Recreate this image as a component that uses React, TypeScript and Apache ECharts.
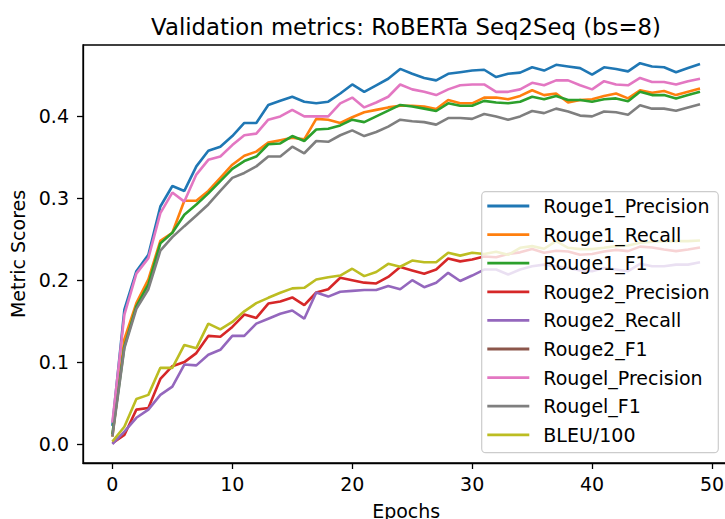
import React, { useEffect, useRef } from "react";
import * as echarts from "echarts";

const epochs = [
  0, 1, 2, 3, 4, 5, 6, 7, 8, 9, 10, 11, 12, 13, 14, 15, 16, 17, 18, 19, 20, 21, 22, 23, 24,
  25, 26, 27, 28, 29, 30, 31, 32, 33, 34, 35, 36, 37, 38, 39, 40, 41, 42, 43, 44, 45, 46, 47, 48, 49,
];

const rouge1Precision = [
  0.022, 0.164, 0.211, 0.231, 0.29, 0.315, 0.309, 0.339, 0.358, 0.363, 0.376, 0.392, 0.392, 0.414, 0.419,
  0.424, 0.418, 0.416, 0.418, 0.428, 0.439, 0.43, 0.438, 0.446, 0.458, 0.452, 0.447, 0.444, 0.452, 0.454,
  0.456, 0.457, 0.448, 0.452, 0.4535, 0.46, 0.456, 0.463, 0.461, 0.459, 0.451, 0.46, 0.458, 0.455, 0.465,
  0.461, 0.46, 0.454, 0.459, 0.464,
];
const rouge1Recall = [
  0.009, 0.128, 0.172, 0.201, 0.248, 0.258, 0.297, 0.297, 0.309, 0.325, 0.341, 0.352, 0.357, 0.368, 0.371,
  0.374, 0.372, 0.397, 0.396, 0.392, 0.399, 0.405, 0.408, 0.411, 0.413, 0.413, 0.412, 0.409, 0.42, 0.416,
  0.416, 0.423, 0.423, 0.421, 0.425, 0.432, 0.426, 0.428, 0.417, 0.42, 0.421, 0.425, 0.428, 0.422, 0.432,
  0.429, 0.431, 0.426, 0.43, 0.434,
];
const rouge1F1 = [
  0.012, 0.119, 0.168, 0.195, 0.245, 0.258, 0.28, 0.2925, 0.306, 0.321, 0.336, 0.3455, 0.351, 0.366, 0.367,
  0.376, 0.37, 0.384, 0.385, 0.389, 0.396, 0.393, 0.4, 0.407, 0.414, 0.412, 0.4095, 0.4066, 0.416, 0.413,
  0.413, 0.419, 0.417, 0.416, 0.418, 0.424, 0.421, 0.425, 0.42, 0.42, 0.418, 0.421, 0.422, 0.4185, 0.43,
  0.426, 0.426, 0.422, 0.426, 0.43,
];
const rouge2Precision = [
  0.001, 0.011, 0.042, 0.044, 0.0795, 0.095, 0.1, 0.111, 0.132, 0.131, 0.143, 0.158, 0.154, 0.1715, 0.174,
  0.179, 0.1695, 0.185, 0.189, 0.203, 0.2, 0.197, 0.196, 0.204, 0.216, 0.212, 0.208, 0.213, 0.2265, 0.223,
  0.2253, 0.229, 0.228, 0.232, 0.234, 0.238, 0.2335, 0.236, 0.235, 0.231, 0.232, 0.235, 0.237, 0.2355, 0.241,
  0.24, 0.2375, 0.2355, 0.2375, 0.24,
];
const rouge2Recall = [
  0.0, 0.015, 0.032, 0.042, 0.06, 0.07, 0.097, 0.096, 0.109, 0.115, 0.132, 0.132, 0.147, 0.153, 0.159,
  0.163, 0.153, 0.185, 0.18, 0.186, 0.187, 0.188, 0.188, 0.193, 0.189, 0.2, 0.1915, 0.197, 0.209, 0.199,
  0.2057, 0.213, 0.213, 0.207, 0.213, 0.217, 0.219, 0.217, 0.215, 0.212, 0.211, 0.215, 0.213, 0.211, 0.22,
  0.217, 0.217, 0.219, 0.219, 0.222,
];
// Rouge2_F1 is listed in the legend but no line is visible in the reference
const rouge2F1: (number | null)[] = [];
const rougeLPrecision = [
  0.026, 0.158, 0.208, 0.227, 0.282, 0.307, 0.296, 0.329, 0.347, 0.351, 0.365, 0.377, 0.379, 0.396, 0.4,
  0.408, 0.4, 0.4, 0.4, 0.416, 0.423, 0.411, 0.417, 0.424, 0.439, 0.433, 0.43, 0.426, 0.433, 0.438,
  0.439, 0.439, 0.43, 0.43, 0.433, 0.441, 0.438, 0.444, 0.444, 0.438, 0.433, 0.443, 0.439, 0.438, 0.447,
  0.442, 0.442, 0.439, 0.443, 0.446,
];
const rougeLF1 = [
  0.009, 0.117, 0.165, 0.189, 0.236, 0.2526, 0.266, 0.279, 0.2925, 0.309, 0.325, 0.331, 0.339, 0.351, 0.351,
  0.363, 0.355, 0.37, 0.369, 0.377, 0.383, 0.376, 0.381, 0.3875, 0.396, 0.394, 0.393, 0.39, 0.398, 0.398,
  0.397, 0.403, 0.4, 0.396, 0.4, 0.4066, 0.404, 0.4095, 0.406, 0.401, 0.4, 0.406, 0.405, 0.402, 0.4136,
  0.4095, 0.4095, 0.407, 0.411, 0.415,
];
const bleu100 = [
  0.003, 0.021, 0.055, 0.06, 0.093, 0.093, 0.121, 0.117, 0.147, 0.14, 0.149, 0.162, 0.172, 0.1785, 0.1846,
  0.19, 0.1907, 0.2008, 0.2037, 0.2057, 0.214, 0.205, 0.21, 0.22, 0.2164, 0.224, 0.222, 0.222, 0.2335, 0.23,
  0.2335, 0.232, 0.2347, 0.231, 0.2396, 0.2416, 0.2384, 0.2477, 0.2396, 0.238, 0.238, 0.2396, 0.2416, 0.2424, 0.2457,
  0.247, 0.2477, 0.2477, 0.2477, 0.2485,
];

const seriesNames = [
  "Rouge1_Precision",
  "Rouge1_Recall",
  "Rouge1_F1",
  "Rouge2_Precision",
  "Rouge2_Recall",
  "Rouge2_F1",
  "Rougel_Precision",
  "Rougel_F1",
  "BLEU/100",
];
const seriesValues = [
  rouge1Precision,
  rouge1Recall,
  rouge1F1,
  rouge2Precision,
  rouge2Recall,
  rouge2F1,
  rougeLPrecision,
  rougeLF1,
  bleu100,
];
const colors = [
  "#1f77b4",
  "#ff7f0e",
  "#2ca02c",
  "#d62728",
  "#9467bd",
  "#8c564b",
  "#e377c2",
  "#7f7f7f",
  "#bcbd22",
];
const xTicks = [0, 10, 20, 30, 40, 50];
const yTicks = [0, 0.1, 0.2, 0.3, 0.4];

const FONT = '"DejaVu Sans", "Liberation Sans", sans-serif';
const FS = 19;

export default function App() {
  const ref = useRef<HTMLDivElement>(null);
  useEffect(() => {
    if (!ref.current) return;
    const chart = echarts.init(ref.current, null, { renderer: "svg" });
    const series = seriesNames.map((name, k) => ({
      name,
      type: "line",
      data: epochs
        .filter((_, i) => i < seriesValues[k].length)
        .map((e, i) => [e, seriesValues[k][i]]),
      showSymbol: false,
      symbol: "none",
      lineStyle: { width: 2.6, color: colors[k] },
      itemStyle: { color: colors[k] },
      color: colors[k],
      z: 2,
    }));
    chart.setOption({
      animation: false,
      backgroundColor: "#ffffff",
      textStyle: { fontFamily: FONT },
      grid: {
        left: 83,
        top: 45,
        right: -4.4,
        bottom: 56,
        outerBoundsMode: "none",
        containLabel: false,
        show: true,
        borderColor: "#000",
        borderWidth: 1.3,
        backgroundColor: "transparent",
      },
      xAxis: {
        type: "value",
        min: -2.45,
        max: 51.45,
        name: "Epochs",
        nameLocation: "middle",
        nameGap: 38,
        nameTextStyle: { fontSize: FS, color: "#000", fontFamily: FONT },
        axisLine: { show: true, onZero: false, lineStyle: { color: "#000", width: 1.3 } },
        axisTick: {
          show: true,
          length: 6,
          inside: false,
          customValues: xTicks,
          lineStyle: { color: "#000", width: 1.3 },
        },
        axisLabel: {
          customValues: xTicks,
          fontSize: FS,
          color: "#000",
          fontFamily: FONT,
          margin: 11,
          formatter: (v: number) => String(v),
        },
        splitLine: { show: false },
      },
      yAxis: {
        type: "value",
        min: -0.0232,
        max: 0.4872,
        name: "Metric Scores",
        nameLocation: "middle",
        nameGap: 56,
        nameRotate: 90,
        nameTextStyle: { fontSize: FS, color: "#000", fontFamily: FONT },
        axisLine: { show: true, onZero: false, lineStyle: { color: "#000", width: 1.3 } },
        axisTick: {
          show: true,
          length: 6,
          inside: false,
          customValues: yTicks,
          lineStyle: { color: "#000", width: 1.3 },
        },
        axisLabel: {
          customValues: yTicks,
          fontSize: FS,
          color: "#000",
          fontFamily: FONT,
          margin: 14,
          formatter: (v: number) => v.toFixed(1),
        },
        splitLine: { show: false },
      },
      legend: {
        orient: "vertical",
        left: 487.3,
        top: 196.5,
        padding: 0,
        icon: "rect",
        itemWidth: 42,
        itemHeight: 2.8,
        itemGap: 9.6,
        z: 60,
        data: seriesNames,
        textStyle: {
          fontSize: FS,
          color: "#000",
          fontFamily: FONT,
          lineHeight: 18,
          padding: [0, 0, 0, 9],
        },
      },
      graphic: {
        elements: [
          {
            type: "rect",
            z: 50,
            shape: { x: 481.7, y: 191.7, width: 236.6, height: 261, r: 4 },
            style: { fill: "rgba(255,255,255,0.8)", stroke: "#cccccc", lineWidth: 1.2 },
          },
          {
            type: "text",
            z: 50,
            x: 406,
            y: 26.5,
            style: {
              text: "Validation metrics: RoBERTa Seq2Seq (bs=8)",
              fontSize: 22.8,
              fontFamily: FONT,
              fill: "#000",
              align: "center",
              verticalAlign: "middle",
            },
          },
        ],
      },
      series,
    });
    return () => chart.dispose();
  }, []);
  return (
    <div
      ref={ref}
      style={{ position: "fixed", left: 0, top: 0, width: 725, height: 519, background: "#fff" }}
    />
  );
}
